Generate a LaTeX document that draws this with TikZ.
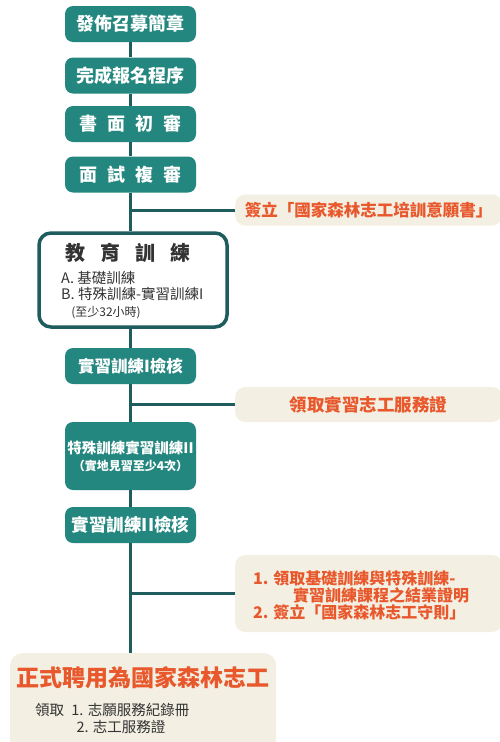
\documentclass[tikz,border=0pt]{standalone}
\usepackage{fontspec}
\setmainfont{Noto Sans CJK TC}
\newfontfamily\cjk{Noto Sans CJK TC}
\definecolor{tealbox}{HTML}{24877F}
\definecolor{trunkc}{HTML}{1E5C5E}
\definecolor{beige}{HTML}{F3F0E3}
\definecolor{orangec}{HTML}{E8582C}
\tikzset{
  stepbox/.style={fill=tealbox, rounded corners=8pt, minimum width=131pt, text=white, font=\cjk\bfseries\fontsize{18}{20}\selectfont, align=center, inner sep=0pt},
  notebox/.style={fill=beige, rounded corners=10pt, text=orangec, font=\cjk\bfseries\fontsize{16.5}{18}\selectfont, inner sep=0pt},
  trunk/.style={draw=trunkc, line width=3pt},
}
\begin{document}
\begin{tikzpicture}[x=1pt,y=-1pt]
\clip (0,0) rectangle (500,742);
\useasboundingbox (0,0) rectangle (500,742);
\fill[white] (0,0) rectangle (500,742);
\node[stepbox, minimum height=36pt] (b1) at (130.5,24) {發佈召募簡章};
\node[stepbox, minimum height=36pt] (b2) at (130.5,75.5) {完成報名程序};
\node[stepbox, minimum height=36pt] (b3) at (130.5,124) {書\hspace{0.55em}面\hspace{0.55em}初\hspace{0.55em}審};
\node[stepbox, minimum height=36pt] (b4) at (130.5,174.5) {面\hspace{0.55em}試\hspace{0.55em}複\hspace{0.55em}審};
\node[draw=trunkc, line width=3.5pt, fill=white, rounded corners=12pt, minimum width=188pt, minimum height=94pt, inner sep=0pt] (edu) at (133,280) {};
\node[font=\cjk\bfseries\fontsize{20}{22}\selectfont, text=black!80] (edut) at (128,253) {教\hspace{0.75em}育\hspace{0.75em}訓\hspace{0.75em}練};
\node[font=\cjk\fontsize{14.5}{16.5}\selectfont, text=black!80, align=left, anchor=north west, inner sep=0pt] (edui) at (61,271) {A. 基礎訓練\\B. 特殊訓練-實習訓練I\\\hspace{0.7em}{\fontsize{12}{13}\selectfont (至少32小時)}};
\node[stepbox, minimum height=36pt, font=\cjk\bfseries\fontsize{16.5}{18}\selectfont] (b5) at (130.5,366) {實習訓練I檢核};
\node[stepbox, minimum height=68pt, font=\cjk\bfseries\fontsize{14.5}{17}\selectfont] (b6) at (130.5,456) {特殊訓練實習訓練II\\{\fontsize{12}{14}\selectfont （實地見習至少4次）}};
\node[stepbox, minimum height=36pt, font=\cjk\bfseries\fontsize{17.5}{19}\selectfont] (b7) at (130.5,525) {實習訓練II檢核};
% final box
\node[notebox, rounded corners=12pt, minimum width=266pt, minimum height=110pt, anchor=north west] (fin) at (10,653) {};
\node[text=orangec, font=\cjk\bfseries\fontsize{23}{25}\selectfont] (fint) at (143,678) {正式聘用為國家森林志工};
\node[font=\cjk\fontsize{14.5}{17}\selectfont, text=black!80, align=left, anchor=north west, inner sep=0pt] (fini) at (35,703) {領取\hspace{0.5em}1. 志願服務紀錄冊\\\hspace{2.85em}2. 志工服務證};
% notes
\node[notebox, minimum width=267pt, minimum height=31pt, anchor=west] (n1) at (235,210) {簽立「國家森林志工培訓意願書」};
\node[notebox, minimum width=267pt, minimum height=35pt, anchor=west, font=\cjk\bfseries\fontsize{17.5}{19}\selectfont] (n2) at (235,404.5) {領取實習志工服務證};
\node[notebox, minimum width=267pt, minimum height=77pt, anchor=west] (n3) at (235,593.5) {};
\node[text=orangec, font=\cjk\bfseries\fontsize{16}{16.5}\selectfont, align=left, anchor=north west, inner sep=0pt] (n3t) at (253,571) {1. 領取基礎訓練與特殊訓練-\\\hspace{2.5em}實習訓練課程之結業證明\\2. 簽立「國家森林志工守則」};
% connectors
\draw[trunk] (b1.south) -- (b2.north);
\draw[trunk] (b2.south) -- (b3.north);
\draw[trunk] (b3.south) -- (b4.north);
\draw[trunk] (b4.south) -- (b4.south |- edu.north);
\draw[trunk] (b5.north |- edu.south) -- (b5.north);
\draw[trunk] (b5.south) -- (b6.north);
\draw[trunk] (b6.south) -- (b7.north);
\draw[trunk] (b7.south) -- (b7.south |- fin.north);
\draw[trunk] (n1.west) -- (n1.west -| b4.south);
\draw[trunk] (n2.west) -- (n2.west -| b5.south);
\draw[trunk] (n3.west) -- (n3.west -| b7.south);
\end{tikzpicture}
\end{document}
